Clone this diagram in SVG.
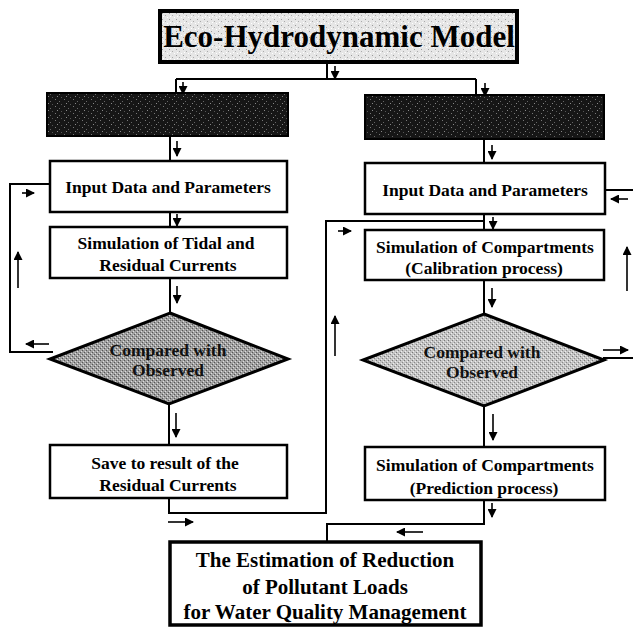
<svg xmlns="http://www.w3.org/2000/svg" width="633" height="628" viewBox="0 0 633 628">
<style>
.box{fill:#fff;stroke:#000;stroke-width:2.5}
.bold{fill:url(#lightSpeck);stroke:#000;stroke-width:4}
.est{fill:#fff;stroke:#000;stroke-width:3.5}
.dark{fill:url(#darkSpeck);stroke:#000;stroke-width:2}
.dia1{fill:url(#graySpeck1);stroke:#000;stroke-width:3}
.dia2{fill:url(#graySpeck2);stroke:#000;stroke-width:3}
.t{font-family:"Liberation Serif","Times New Roman",serif;font-weight:bold;font-size:17.5px;text-anchor:middle;fill:#000}
.tt{font-family:"Liberation Serif","Times New Roman",serif;font-weight:bold;font-size:31px;text-anchor:middle;fill:#000}
.te{font-family:"Liberation Serif","Times New Roman",serif;font-weight:bold;font-size:21px;text-anchor:middle;fill:#000}
.td{font-family:"Liberation Serif","Times New Roman",serif;font-weight:bold;font-size:17.5px;text-anchor:middle;fill:#111}
.ln{fill:none;stroke:#000;stroke-width:2}
.ar{stroke:#000;stroke-width:1.6;marker-end:url(#ah)}
</style>
<defs>
<marker id="ah" markerWidth="9" markerHeight="9" refX="8" refY="4.5" orient="auto" markerUnits="userSpaceOnUse">
<path d="M0,0 L9,4.5 L0,9 z" fill="#000"/>
</marker>
<pattern id="darkSpeck" width="9" height="7" patternUnits="userSpaceOnUse">
<rect width="9" height="7" fill="#161616"/>
<rect x="1" y="1" width="1" height="1" fill="#777"/>
<rect x="5" y="3" width="1" height="1" fill="#666"/>
<rect x="3" y="5" width="1" height="1" fill="#888"/>
<rect x="7" y="6" width="1" height="1" fill="#555"/>
</pattern>
<pattern id="lightSpeck" width="7" height="6" patternUnits="userSpaceOnUse">
<rect width="7" height="6" fill="#e6e6e6"/>
<rect x="1" y="1" width="1" height="1" fill="#9a9a9a"/>
<rect x="4" y="3" width="1" height="1" fill="#aaa"/>
<rect x="6" y="5" width="1" height="1" fill="#fff"/>
<rect x="2" y="4" width="1" height="1" fill="#fff"/>
</pattern>
<pattern id="graySpeck1" width="4" height="4" patternUnits="userSpaceOnUse">
<rect width="4" height="4" fill="#a0a0a0"/>
<rect x="0" y="0" width="1" height="1" fill="#555"/>
<rect x="2" y="2" width="1" height="1" fill="#555"/>
<rect x="1" y="3" width="1" height="1" fill="#ddd"/>
<rect x="3" y="1" width="1" height="1" fill="#ddd"/>
</pattern>
<pattern id="graySpeck2" width="4" height="4" patternUnits="userSpaceOnUse">
<rect width="4" height="4" fill="#c4c4c4"/>
<rect x="0" y="0" width="1" height="1" fill="#777"/>
<rect x="2" y="2" width="1" height="1" fill="#888"/>
<rect x="1" y="3" width="1" height="1" fill="#eee"/>
<rect x="3" y="1" width="1" height="1" fill="#eee"/>
</pattern>
</defs>

<g id="connectors">
<!-- title split -->
<path class="ln" d="M327,62 V79 M176,79 H476 M176,79 V93 M476,79 V95"/>
<line class="ar" x1="335" y1="66" x2="335" y2="79"/>
<line class="ar" x1="183" y1="82" x2="183" y2="94"/>
<line class="ar" x1="485" y1="83" x2="485" y2="96"/>
<!-- left column -->
<path class="ln" d="M170,136 V161 M170,212 V227 M170,278 V313 M169,404 V445"/>
<line class="ar" x1="177" y1="141" x2="177" y2="156"/>
<line class="ar" x1="177" y1="214" x2="177" y2="226"/>
<line class="ar" x1="177" y1="286" x2="177" y2="303"/>
<line class="ar" x1="176" y1="413" x2="176" y2="437"/>
<!-- left feedback loop -->
<path class="ln" d="M53,352 H10 V184 H49"/>
<line class="ar" x1="22" y1="193" x2="34" y2="193"/>
<line class="ar" x1="18" y1="288" x2="18" y2="252"/>
<line class="ar" x1="49" y1="344" x2="26" y2="344"/>
<!-- save to right column -->
<path class="ln" d="M169,498 V513 H326 V221 H484"/>
<line class="ar" x1="168" y1="522" x2="193" y2="522"/>
<line class="ar" x1="338" y1="231" x2="351" y2="231"/>
<line class="ar" x1="335" y1="356" x2="335" y2="316"/>
<!-- right column -->
<path class="ln" d="M484,139 V163 M484,214 V230 M484,280 V314 M484,406 V447"/>
<line class="ar" x1="492" y1="145" x2="492" y2="159"/>
<line class="ar" x1="493" y1="217" x2="493" y2="229"/>
<line class="ar" x1="492" y1="288" x2="492" y2="307"/>
<line class="ar" x1="493" y1="414" x2="493" y2="440"/>
<!-- right feedback loop -->
<path class="ln" d="M605,190 H633 M603,358 H633"/>
<line class="ar" x1="628" y1="199" x2="611" y2="199"/>
<line class="ar" x1="627" y1="291" x2="627" y2="247"/>
<line class="ar" x1="603" y1="350" x2="628" y2="350"/>
<!-- prediction to estimation -->
<path class="ln" d="M484,500 V524 H327 V541"/>
<line class="ar" x1="492" y1="503" x2="492" y2="517"/>
<line class="ar" x1="423" y1="532" x2="397" y2="532"/>
</g>

<g id="title">
<rect class="bold" x="160" y="11" width="357" height="51"/>
<text class="tt" x="339" y="47">Eco-Hydrodynamic Model</text>
</g>

<g id="hydro-model">
<rect class="dark" x="47" y="93" width="241" height="43"/>
</g>
<g id="eco-model">
<rect class="dark" x="365" y="95" width="239" height="44"/>
</g>

<g id="left-input">
<rect class="box" x="50" y="161" width="237" height="51"/>
<text class="t" x="168" y="193">Input Data and Parameters</text>
</g>
<g id="left-sim">
<rect class="box" x="50" y="227" width="237" height="51"/>
<text class="t" x="166" y="249">Simulation of Tidal and</text>
<text class="t" x="168" y="271">Residual Currents</text>
</g>
<g id="left-compare">
<polygon class="dia1" points="170,313 288,359 169,404 50,359"/>
<text class="td" x="168" y="356">Compared with</text>
<text class="td" x="168" y="376">Observed</text>
</g>
<g id="left-save">
<rect class="box" x="50" y="445" width="237" height="53"/>
<text class="t" x="165" y="469">Save to result of the</text>
<text class="t" x="168" y="491">Residual Currents</text>
</g>

<g id="right-input">
<rect class="box" x="365" y="163" width="240" height="51"/>
<text class="t" x="485" y="196">Input Data and Parameters</text>
</g>
<g id="right-sim">
<rect class="box" x="365" y="230" width="239" height="50"/>
<text class="t" x="485" y="253">Simulation of Compartments</text>
<text class="t" x="484" y="274">(Calibration process)</text>
</g>
<g id="right-compare">
<polygon class="dia2" points="484,314 604,360 484,406 363,360"/>
<text class="td" x="482" y="358">Compared with</text>
<text class="td" x="482" y="378">Observed</text>
</g>
<g id="right-predict">
<rect class="box" x="365" y="447" width="240" height="53"/>
<text class="t" x="485" y="471">Simulation of Compartments</text>
<text class="t" x="484" y="494">(Prediction process)</text>
</g>

<g id="estimation">
<rect class="est" x="170" y="542" width="311" height="83"/>
<text class="te" x="325" y="567">The Estimation of Reduction</text>
<text class="te" x="325" y="594">of Pollutant Loads</text>
<text class="te" x="325" y="619">for Water Quality Management</text>
</g>
</svg>
